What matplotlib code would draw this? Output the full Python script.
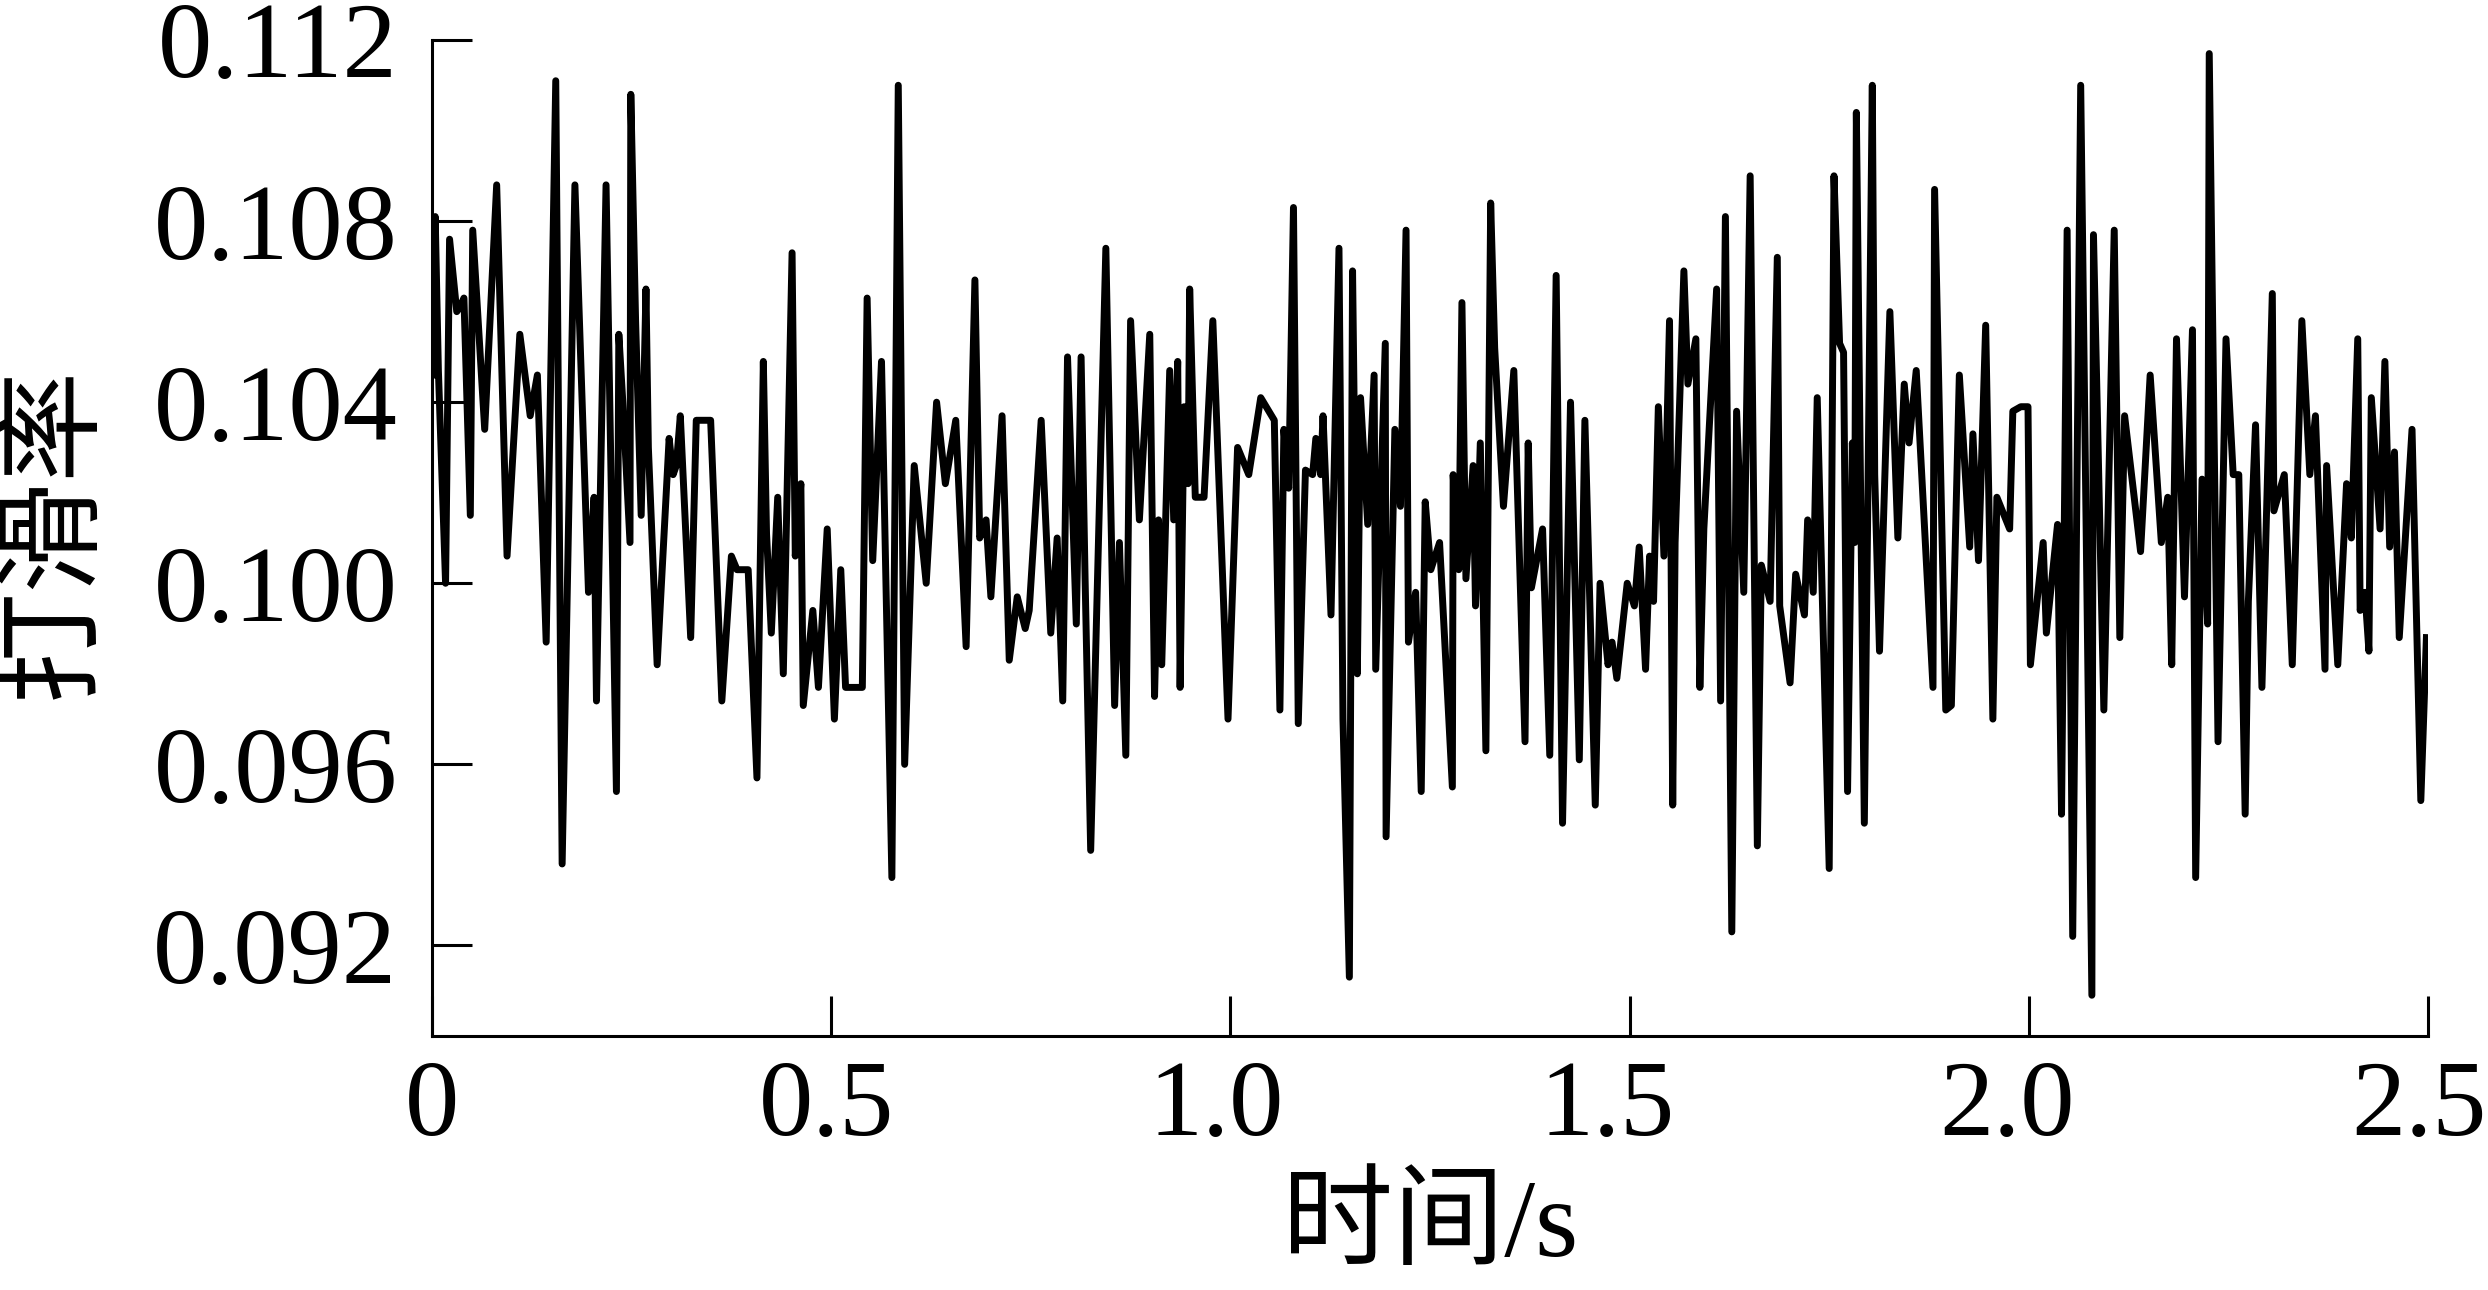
import matplotlib.pyplot as plt
from matplotlib.transforms import ScaledTranslation

# values (time in s, slip rate)
t = [0.000, 0.004, 0.008, 0.017, 0.022, 0.031, 0.035, 0.040, 0.048, 0.051,
     0.066, 0.081, 0.094, 0.110, 0.123, 0.132, 0.143, 0.155, 0.163, 0.179,
     0.196, 0.203, 0.206, 0.218, 0.231, 0.234, 0.239, 0.248, 0.249,
     0.255, 0.262, 0.268, 0.271, 0.282, 0.297, 0.302, 0.306, 0.311, 0.324,
     0.331, 0.349, 0.363, 0.375, 0.382, 0.396, 0.407, 0.415, 0.419, 0.425,
     0.433, 0.440, 0.451, 0.455, 0.462, 0.465, 0.477, 0.484, 0.495,
     0.504, 0.512, 0.518, 0.539, 0.545, 0.552, 0.563, 0.576, 0.584, 0.592,
     0.604, 0.619, 0.632, 0.643, 0.656, 0.669, 0.680, 0.686, 0.694, 0.700,
     0.714, 0.723, 0.733, 0.743,
     0.748, 0.763, 0.775, 0.783, 0.790, 0.796, 0.807, 0.813, 0.818, 0.825,
     0.844, 0.855, 0.861, 0.869, 0.875, 0.886, 0.899, 0.905, 0.910, 0.914,
     0.924, 0.929, 0.934, 0.937, 0.942, 0.947, 0.949, 0.956, 0.967, 0.978,
     0.997,
     1.009, 1.023, 1.038, 1.055, 1.062, 1.067, 1.073, 1.079, 1.085, 1.094,
     1.103, 1.107, 1.113, 1.116, 1.126, 1.136, 1.141, 1.149, 1.153, 1.159,
     1.163, 1.172, 1.180, 1.182, 1.194, 1.195, 1.206, 1.213, 1.220, 1.223,
     1.232, 1.239, 1.244,
     1.251, 1.262, 1.278, 1.279, 1.286, 1.290, 1.295, 1.304, 1.307, 1.313,
     1.320, 1.326, 1.331, 1.342, 1.355, 1.369, 1.373, 1.377, 1.391, 1.400,
     1.408, 1.416, 1.426, 1.437, 1.444, 1.457, 1.463, 1.473, 1.478, 1.484,
     1.497, 1.506,
     1.512, 1.520, 1.525, 1.530, 1.536, 1.543, 1.550, 1.554, 1.557, 1.568,
     1.573, 1.583, 1.588, 1.593, 1.609, 1.614, 1.620, 1.628, 1.634, 1.643,
     1.651, 1.660, 1.665, 1.676, 1.685, 1.688, 1.701, 1.708, 1.719, 1.723,
     1.730, 1.735, 1.750, 1.756,
     1.763, 1.768, 1.773, 1.779, 1.782, 1.784, 1.794, 1.804, 1.807, 1.813,
     1.826, 1.836, 1.844, 1.850, 1.859, 1.880, 1.882, 1.896, 1.903, 1.909,
     1.913, 1.926, 1.930, 1.937, 1.946, 1.955, 1.960, 1.976, 1.980, 1.990,
     1.999, 2.002,
     2.018, 2.022, 2.036, 2.041, 2.048, 2.055, 2.065, 2.079, 2.081, 2.094,
     2.107, 2.114, 2.120, 2.140, 2.152, 2.166, 2.174, 2.179, 2.185, 2.195,
     2.205, 2.209, 2.217, 2.224, 2.226, 2.237, 2.247, 2.256,
     2.263, 2.271, 2.275, 2.284, 2.292, 2.305, 2.307, 2.320, 2.330, 2.342,
     2.352, 2.359, 2.371, 2.373, 2.387, 2.398, 2.404, 2.412, 2.415, 2.421,
     2.426, 2.429, 2.440, 2.446, 2.452, 2.458, 2.464, 2.480, 2.491, 2.498]

slip = [0.1046, 0.1081, 0.1047, 0.1000, 0.1076, 0.1060, 0.1061, 0.1063, 0.1015, 0.1078,
        0.1034, 0.1088, 0.1006, 0.1055, 0.1037, 0.1046, 0.0987, 0.1111, 0.0938, 0.1088,
        0.0998, 0.1019, 0.0974, 0.1088, 0.0954, 0.1055, 0.1040, 0.1009, 0.1108,
        0.1058, 0.1015, 0.1065, 0.1030, 0.0982, 0.1032, 0.1024, 0.1026, 0.1037, 0.0988,
        0.1036, 0.1036, 0.0974, 0.1006, 0.1003, 0.1003, 0.0957, 0.1049, 0.1011, 0.0989,
        0.1019, 0.0980, 0.1073, 0.1006, 0.1022, 0.0973, 0.0994, 0.0977, 0.1012,
        0.0970, 0.1003, 0.0977, 0.0977, 0.1063, 0.1005, 0.1049, 0.0935, 0.1110, 0.0960,
        0.1026, 0.1000, 0.1040, 0.1022, 0.1036, 0.0986, 0.1067, 0.1010, 0.1014, 0.0997,
        0.1037, 0.0983, 0.0997, 0.0990,
        0.0994, 0.1036, 0.0989, 0.1010, 0.0974, 0.1050, 0.0991, 0.1050, 0.1001, 0.0941,
        0.1074, 0.0973, 0.1009, 0.0962, 0.1058, 0.1014, 0.1055, 0.0975, 0.1014, 0.0982,
        0.1047, 0.1014, 0.1049, 0.0977, 0.1039, 0.1022, 0.1065, 0.1019, 0.1019, 0.1058,
        0.0970,
        0.1030, 0.1024, 0.1041, 0.1036, 0.0972, 0.1034, 0.1021, 0.1083, 0.0969, 0.1025,
        0.1024, 0.1032, 0.1024, 0.1037, 0.0993, 0.1074, 0.0970, 0.0913, 0.1069, 0.0980,
        0.1041, 0.1013, 0.1046, 0.0981, 0.1053, 0.0944, 0.1034, 0.1017, 0.1078, 0.0987,
        0.0998, 0.0954, 0.1018,
        0.1003, 0.1009, 0.0955, 0.1024, 0.1003, 0.1062, 0.1001, 0.1026, 0.0995, 0.1031,
        0.0963, 0.1084, 0.1052, 0.1017, 0.1047, 0.0965, 0.1031, 0.0999, 0.1012, 0.0962,
        0.1068, 0.0947, 0.1040, 0.0961, 0.1036, 0.0951, 0.1000, 0.0982, 0.0987, 0.0979,
        0.1000, 0.0995,
        0.1008, 0.0981, 0.1006, 0.0996, 0.1039, 0.1006, 0.1058, 0.0951, 0.1009, 0.1069,
        0.1044, 0.1054, 0.0977, 0.1012, 0.1065, 0.0974, 0.1081, 0.0923, 0.1038, 0.0998,
        0.1090, 0.0942, 0.1004, 0.0996, 0.1072, 0.0995, 0.0978, 0.1002, 0.0993, 0.1014,
        0.0998, 0.1041, 0.0937, 0.1090,
        0.1053, 0.1051, 0.0954, 0.1031, 0.1009, 0.1104, 0.0947, 0.1110, 0.1024, 0.0985,
        0.1060, 0.1010, 0.1044, 0.1031, 0.1047, 0.0977, 0.1087, 0.0972, 0.0973, 0.1017,
        0.1046, 0.1008, 0.1033, 0.1005, 0.1057, 0.0970, 0.1019, 0.1012, 0.1038, 0.1039,
        0.1039, 0.0982,
        0.1009, 0.0989, 0.1013, 0.0949, 0.1078, 0.0922, 0.1110, 0.0909, 0.1077, 0.0972,
        0.1078, 0.0988, 0.1037, 0.1007, 0.1046, 0.1009, 0.1019, 0.0982, 0.1054, 0.0997,
        0.1056, 0.0935, 0.1023, 0.0991, 0.1117, 0.0965, 0.1054, 0.1024,
        0.1024, 0.0949, 0.0996, 0.1035, 0.0977, 0.1064, 0.1016, 0.1024, 0.0982, 0.1058,
        0.1024, 0.1037, 0.0981, 0.1026, 0.0982, 0.1022, 0.1010, 0.1054, 0.0994, 0.0998,
        0.0985, 0.1041, 0.1012, 0.1049, 0.1008, 0.1029, 0.0988, 0.1034, 0.0952, 0.0988]

xticks = [0, 0.5, 1.0, 1.5, 2.0, 2.5]
xtick_labels = ['0', '0.5', '1.0', '1.5', '2.0', '2.5']
yticks = [0.092, 0.096, 0.100, 0.104, 0.108, 0.112]

fonts = ['Liberation Serif', 'Noto Sans CJK SC', 'DejaVu Sans']
plt.rcParams['font.family'] = fonts

fig = plt.figure(figsize=(24.88, 12.90), dpi=100)
ax = fig.add_axes([432 / 2488, 1 - 1036 / 1290, 1996 / 2488, 996 / 1290])

ax.plot(t, slip, color='black', lw=5, solid_joinstyle='round')

ax.set_xlim(0, 2.5)
ax.set_ylim(0.090, 0.112)
ax.set_xticks(xticks)
ax.set_xticklabels(xtick_labels)
ax.set_yticks(yticks)
ax.set_yticklabels(['%.3f' % y for y in yticks])

for side in ['top', 'right']:
    ax.spines[side].set_visible(False)
for side in ['left', 'bottom']:
    ax.spines[side].set_linewidth(2.2)

ax.tick_params(axis='both', direction='in', length=29, width=2.2, labelsize=78)
ax.tick_params(axis='y', pad=25)
ax.tick_params(axis='x', pad=17)

# the x labels in the original sit a little left of their ticks
shifts_px = [0, -5, -14, -22, -22, -9]
for lab, dx in zip(ax.get_xticklabels(), shifts_px):
    lab.set_transform(lab.get_transform() + ScaledTranslation(dx / 100, 0, fig.dpi_scale_trans))

fig.text(1430 / 2488, 1 - 1228 / 1290, '时间/s', fontsize=80, ha='center', va='center')
fig.text(56 / 2488, 1 - 532 / 1290, '打滑率', fontsize=80, ha='center', va='center',
         rotation=90)

fig.savefig('out.png', dpi=100)
